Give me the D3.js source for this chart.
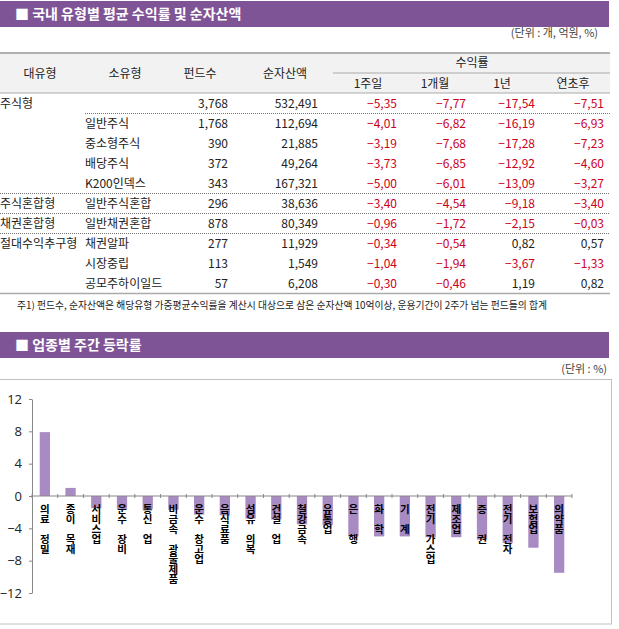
<!DOCTYPE html>
<html>
<head>
<meta charset="utf-8">
<script src="https://d3js.org/d3.v7.min.js"></script>
<style>
  body { margin:0; background:#fff; }
  text { font-family: "Noto Sans CJK KR", "Noto Sans", sans-serif; }
  .hdr { fill:#fff; font-size:14px; font-weight:bold; }
  .cell { font-size:12px; fill:#222; }
  .neg { fill:#cc0022; }
  .note { font-size:9.8px; fill:#222; }
  .unit { font-size:11px; fill:#444; }
  .y.axis text { font-family:"Open Sans", sans-serif; font-size:13px; fill:#222; }
  .y.axis path, .y.axis line { stroke:#888; }
  .lbl { font-size:10.5px; fill:#000; font-weight:bold; writing-mode:vertical-rl; text-orientation:upright;
         letter-spacing:-0.5px; white-space:pre; }
  .bar { fill:#a98bc4; }
</style>
</head>
<body>
<script>
// ---- table data
var majorTypes = ["주식형","","","","","주식혼합형","채권혼합형","절대수익추구형","",""];
var subTypes = ["","일반주식","중소형주식","배당주식","K200인덱스","일반주식혼합","일반채권혼합","채권알파","시장중립","공모주하이일드"];
var fundCounts = [3768,1768,390,372,343,296,878,277,113,57];
var netAssets = [532491,112694,21885,49264,167321,38636,80349,11929,1549,6208];
var ret1w = [-5.35,-4.01,-3.19,-3.73,-5.00,-3.40,-0.96,-0.34,-1.04,-0.30];
var ret1m = [-7.77,-6.82,-7.68,-6.85,-6.01,-4.54,-1.72,-0.54,-1.94,-0.46];
var ret1y = [-17.54,-16.19,-17.28,-12.92,-13.09,-9.18,-2.15,0.82,-3.67,1.19];
var retYtd = [-7.51,-6.93,-7.23,-4.60,-3.27,-3.40,-0.03,0.57,-1.33,0.82];

// ---- chart data
var sectors = ["의료 정밀","종이 목재","서비스업","운수 장비","통신 업","비금속 광물제품","운수 창고업","음식료품","섬유 의복","건설 업","철강금속","유통업","은  행","화 학","기 계","전기 가스업","제조업","증  권","전기 전자","보험업","의약품"];
var weekly = [7.9,1.0,-1.5,-1.6,-1.6,-1.7,-2.3,-2.4,-2.8,-2.9,-3.5,-3.6,-5.0,-5.0,-5.0,-5.1,-5.1,-5.4,-5.8,-6.4,-9.5];
var yTicks = [12,8,4,0,-4,-8,-12];

var W = 619, H = 629;
var svg = d3.select("body").append("svg").attr("width", W).attr("height", H);

function header(y, txt) {
  svg.append("rect").attr("x",0).attr("y",y).attr("width",609).attr("height",26).attr("fill","#7f5497");
  svg.append("text").attr("class","hdr").attr("x",15).attr("y",y+18).text("■ " + txt);
}

// ============ table ============
header(1, "국내 유형별 평균 수익률 및 순자산액");
svg.append("text").attr("class","unit").attr("x",598).attr("y",37).attr("text-anchor","end").text("(단위 : 개, 억원, %)");

svg.append("rect").attr("x",0).attr("y",53).attr("width",610).attr("height",40).attr("fill","#f2f2f2");
svg.append("line").attr("x1",0).attr("x2",610).attr("y1",53).attr("y2",53).attr("stroke","#999").attr("stroke-width",1.5);
svg.append("line").attr("x1",0).attr("x2",610).attr("y1",93).attr("y2",93).attr("stroke","#aaa");
svg.append("line").attr("x1",333).attr("x2",610).attr("y1",73).attr("y2",73).attr("stroke","#aaa");

var heads = [["대유형",40],["소유형",125],["펀드수",200],["순자산액",285]];
heads.forEach(function(h){
  svg.append("text").attr("class","cell").attr("x",h[1]).attr("y",78).attr("text-anchor","middle").text(h[0]);
});
svg.append("text").attr("class","cell").attr("x",472).attr("y",67).attr("text-anchor","middle").text("수익률");
[["1주일",368],["1개월",435],["1년",502],["연초후",573]].forEach(function(h){
  svg.append("text").attr("class","cell").attr("x",h[1]).attr("y",88).attr("text-anchor","middle").text(h[0]);
});

var rows = d3.scaleBand().domain(d3.range(fundCounts.length)).range([94, 294]);
var fInt = d3.format(",");
function fPct(v) { return d3.format(".2f")(v).replace(".", ","); }

var tcols = [
  {vals: majorTypes, x: 0, anchor: "start", fmt: String},
  {vals: subTypes, x: 85, anchor: "start", fmt: String},
  {vals: fundCounts, x: 228, anchor: "end", fmt: fInt},
  {vals: netAssets, x: 318, anchor: "end", fmt: fInt},
  {vals: ret1w, x: 397, anchor: "end", fmt: fPct},
  {vals: ret1m, x: 466, anchor: "end", fmt: fPct},
  {vals: ret1y, x: 535, anchor: "end", fmt: fPct},
  {vals: retYtd, x: 604, anchor: "end", fmt: fPct}
];
tcols.forEach(function(c){
  svg.append("g").selectAll("text").data(c.vals).enter().append("text")
    .attr("class", function(d){ return (typeof d === "number" && d < 0) ? "cell neg" : "cell"; })
    .attr("x", c.x)
    .attr("y", function(d,i){ return rows(i) + rows.bandwidth()/2 + 4; })
    .attr("text-anchor", c.anchor)
    .text(function(d){ return c.fmt(d); });
});

// dotted separators
[[0,85],[4,0],[5,0],[6,0]].forEach(function(s){
  var yy = rows(s[0]) + rows.bandwidth() - 0.5;
  svg.append("line").attr("x1",s[1]).attr("x2",610).attr("y1",yy).attr("y2",yy)
    .attr("stroke","#777").attr("stroke-dasharray","1,1");
});
svg.append("line").attr("x1",0).attr("x2",610).attr("y1",293.5).attr("y2",293.5).attr("stroke","#aaa").attr("stroke-width",1.5);

svg.append("text").attr("class","note").attr("x",17).attr("y",309)
  .text("주1) 펀드수, 순자산액은 해당유형 가중평균수익률을 계산시 대상으로 삼은 순자산액 10억이상, 운용기간이 2주가 넘는 펀드들의 합계");

// ============ chart ============
header(332, "업종별 주간 등락률");
svg.append("text").attr("class","unit").attr("x",607).attr("y",373).attr("text-anchor","end").text("(단위 : %)");
svg.append("rect").attr("x",-1).attr("y",379.5).attr("width",612.5).attr("height",244.5)
  .attr("fill","none").attr("stroke","#c0c0c0");

var x = d3.scaleBand().domain(sectors).range([32, 572]).paddingInner(0.6).paddingOuter(0.3);
var y = d3.scaleLinear().domain([-12, 12]).range([593, 399]);

var yAxis = d3.axisLeft(y).tickValues(yTicks).tickSize(3).tickPadding(7).tickSizeOuter(0);
svg.append("g").attr("class","y axis").attr("transform","translate(32,0)").call(yAxis);

svg.selectAll(".bar").data(weekly).enter().append("rect")
  .attr("class","bar")
  .attr("x", function(d,i){ return x(sectors[i]); })
  .attr("width", x.bandwidth())
  .attr("y", function(d){ return y(Math.max(0,d)); })
  .attr("height", function(d){ return Math.abs(y(d) - y(0)); });

// category axis
var step = (572 - 32) / sectors.length;
svg.append("line").attr("x1",32).attr("x2",572).attr("y1",y(0)).attr("y2",y(0)).attr("stroke","#888");
svg.append("g").selectAll("line").data(d3.range(sectors.length + 1)).enter().append("line")
  .attr("x1", function(i){ return 32 + i*step; }).attr("x2", function(i){ return 32 + i*step; })
  .attr("y1", y(0) - 2).attr("y2", y(0) + 2).attr("stroke","#888");

// vertical stacked labels
svg.append("g").selectAll("text").data(sectors).enter().append("text")
  .attr("class","lbl")
  .attr("x", function(d){ return x(d) + x.bandwidth()/2; })
  .attr("y", 504)
  .text(function(d){ return d; });
</script>
</body>
</html>
